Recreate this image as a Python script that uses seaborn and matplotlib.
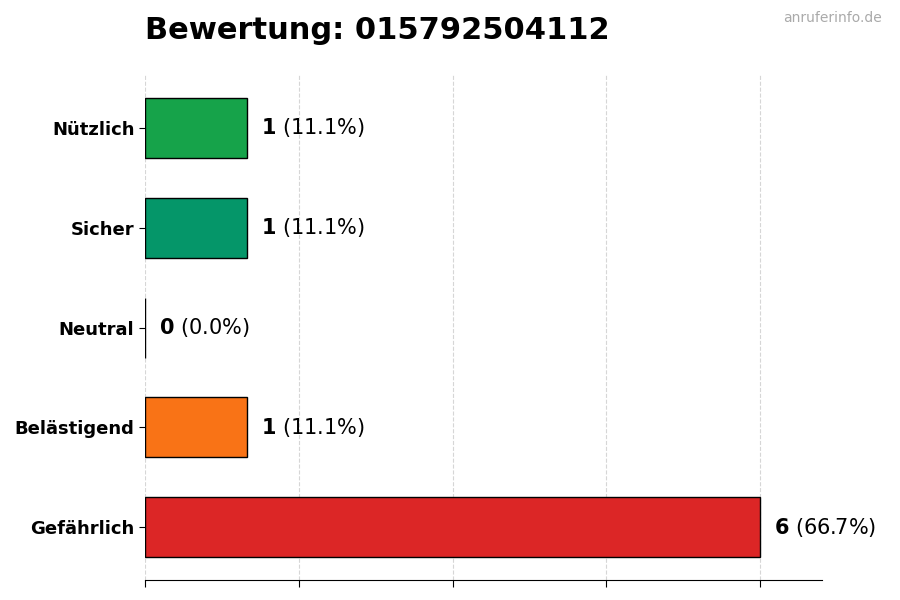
import matplotlib

matplotlib.use("Agg")

import matplotlib.pyplot as plt
import pandas as pd
import seaborn as sns

categories = ["Nützlich", "Sicher", "Neutral", "Belästigend", "Gefährlich"]
counts = [1, 1, 0, 1, 6]
colors = ["#16a34a", "#059669", "#9ca3af", "#f97316", "#dc2626"]
x_ticks = [0, 1.5, 3, 4.5, 6]
title = "Bewertung: 015792504112"
watermark = "anruferinfo.de"

total = sum(counts)
df = pd.DataFrame({"category": categories, "count": counts})

sns.set_style("white")
plt.rcParams["text.color"] = "black"
plt.rcParams["axes.labelcolor"] = "black"
plt.rcParams["xtick.color"] = "black"
plt.rcParams["ytick.color"] = "black"

fig = plt.figure(figsize=(9, 6), dpi=100)
ax = fig.add_axes([0.161, 0.033, 0.752, 0.842])

sns.barplot(
    data=df,
    y="category",
    x="count",
    hue="category",
    palette=colors,
    saturation=1,
    orient="h",
    width=0.6,
    edgecolor="black",
    linewidth=1,
    legend=False,
    ax=ax,
)

ax.set_xlim(0, max(counts) * 1.1)
ax.set_ylim(len(categories) - 0.47, -0.53)
ax.set_xticks(x_ticks)
ax.set_xticklabels([])
ax.set_xlabel("")
ax.set_ylabel("")
ax.grid(axis="x", linestyle="--", color="#cccccc", linewidth=0.8, alpha=0.8)
ax.set_axisbelow(True)
for side in ("top", "right", "left"):
    ax.spines[side].set_visible(False)
ax.spines["bottom"].set_color("black")
ax.tick_params(axis="x", which="both", bottom=True, length=5, color="black")
ax.tick_params(axis="y", left=True, length=4, color="black", labelsize=13)
for lbl in ax.get_yticklabels():
    lbl.set_fontweight("bold")

for i, c in enumerate(counts):
    pct = c / total * 100
    ax.annotate(
        rf"$\bf{{{c}}}$ ({pct:.1f}%)",
        xy=(c, i),
        xytext=(10, 0),
        textcoords="offset points",
        va="center",
        ha="left",
        fontsize=15,
        color="black",
    )

ax.set_title(title, loc="left", fontsize=22, fontweight="bold", pad=26, color="black")
fig.text(0.98, 0.97, watermark, ha="right", va="center", fontsize=10, color="#aaaaaa")

fig.savefig("out.png", dpi=100)
